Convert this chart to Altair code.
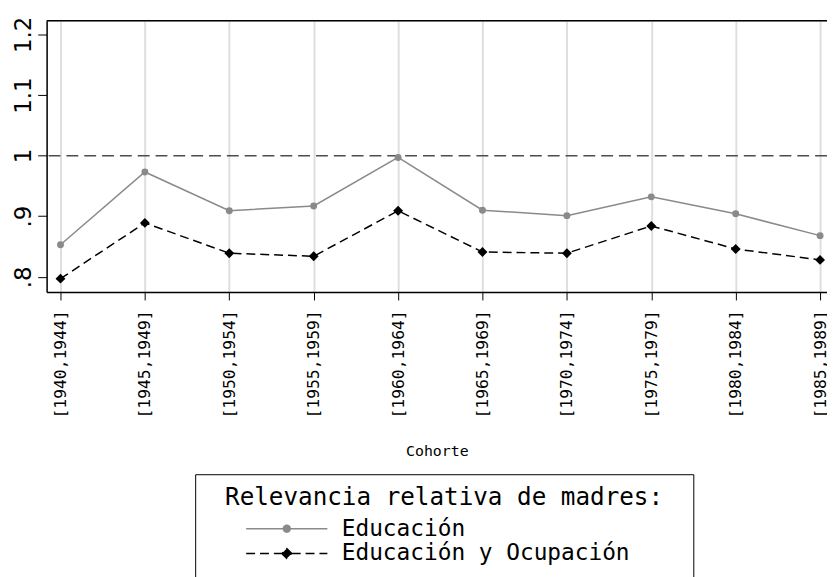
import altair as alt
import pandas as pd
import math

# ---- data ----
categorias = ["[1940,1944]", "[1945,1949]", "[1950,1954]", "[1955,1959]", "[1960,1964]",
              "[1965,1969]", "[1970,1974]", "[1975,1979]", "[1980,1984]", "[1985,1989]"]
educacion = [0.853, 0.973, 0.909, 0.917, 0.997, 0.910, 0.901, 0.932, 0.904, 0.868]
educ_ocup = [0.797, 0.889, 0.839, 0.834, 0.909, 0.841, 0.839, 0.884, 0.846, 0.828]
series = ["Educación", "Educación y Ocupación"]
y_ticks = [0.8, 0.9, 1.0, 1.1, 1.2]
y_tick_labels = [".8", ".9", "1", "1.1", "1.2"]
ref_value = [1.0]

rows = []
for i, c in enumerate(categorias):
    rows.append({"idx": i, "cohorte": c, "serie": series[0], "valor": educacion[i]})
    rows.append({"idx": i, "cohorte": c, "serie": series[1], "valor": educ_ocup[i]})
df = pd.DataFrame(rows)
ref_df = pd.DataFrame({"valor": ref_value})

W, H = 788, 274
GRAY = "#8a8a8a"
MONO = "DejaVu Sans Mono"

x_label_expr = "[" + ",".join("'%s'" % c for c in categorias) + "][round(datum.value)]"
y_label_expr = "[" + ",".join("'%s'" % t for t in y_tick_labels) + "][round((datum.value - 0.8) * 10)]"

x_enc = alt.X("idx:Q",
              scale=alt.Scale(domain=[-0.1643, 9.082], nice=False, zero=False),
              axis=alt.Axis(values=list(range(len(categorias))), labelExpr=x_label_expr,
                            labelAngle=-90, labelAlign="right", labelBaseline="middle",
                            labelFont=MONO, labelFontSize=16.5, labelColor="black",
                            labelPadding=10, tickSize=8, tickColor="black", tickWidth=1,
                            labelOverlap=False, labelFlush=False,
                            grid=True, gridColor="#dedede", gridWidth=2,
                            domainColor="black", domainWidth=1.5,
                            title="Cohorte", titleFont=MONO, titleFontSize=15,
                            titleFontWeight="normal", titleColor="black", titlePadding=26))
y_enc = alt.Y("valor:Q",
              scale=alt.Scale(domain=[0.775, 1.2227], nice=False, zero=False),
              axis=alt.Axis(values=y_ticks, labelExpr=y_label_expr,
                            labelAngle=-90, labelAlign="center", labelBaseline="bottom",
                            labelFont="DejaVu Sans", labelFontSize=23, labelColor="black",
                            labelPadding=2, tickSize=9, tickColor="black", tickWidth=1,
                            grid=False, domainColor="black", domainWidth=1.5,
                            labelOverlap=False, labelFlush=False, title=None))

base = alt.Chart(df)

ref_rule = alt.Chart(ref_df).mark_rule(color="#4d4d4d", strokeWidth=1.5, strokeDash=[12, 6]).encode(
    y=alt.Y("valor:Q", scale=alt.Scale(domain=[0.775, 1.2227], nice=False, zero=False))
)

top_line = alt.Chart(ref_df).mark_rule(color="black", strokeWidth=1.5).encode(
    x=alt.value(0), x2=alt.value(W + 10), y=alt.value(0)
)

e_line = base.transform_filter(alt.datum.serie == series[0]).mark_line(
    color=GRAY, strokeWidth=1.5).encode(x=x_enc, y=y_enc)
e_pts = base.transform_filter(alt.datum.serie == series[0]).mark_point(
    filled=True, shape="circle", size=49, color=GRAY, opacity=1).encode(x="idx:Q", y="valor:Q")
o_line = base.transform_filter(alt.datum.serie == series[1]).mark_line(
    color="black", strokeWidth=1.5, strokeDash=[9, 5]).encode(x="idx:Q", y="valor:Q")
o_pts = base.transform_filter(alt.datum.serie == series[1]).mark_point(
    filled=True, shape="diamond", size=100, color="black", opacity=1).encode(x="idx:Q", y="valor:Q")

# legend symbols: line with marker (custom symbol paths)
circle_pts = []
for k in range(17):
    a = 2 * math.pi * k / 16
    circle_pts.append("%.3f,%.3f" % (0.7 * math.cos(a), 0.7 * math.sin(a)))
path_educ = "M-8.2,0L8.2,0M" + "L".join(circle_pts) + "Z"
path_ocup = "M-8.2,0L-1,0M1,0L8.2,0M0,-1L1,0L0,1L-1,0Z"
path_blank = "M0,0"

# a blank third row only lets the legend frame run past the bottom edge, as in the reference
leg_domain = series + [" "]
BLANK = "\u2800"  # invisible spacer (not trimmed) to indent the legend title like the reference
leg = alt.Legend(orient="none", legendX=150, legendY=458,
                 title=BLANK + "Relevancia relativa de madres:" + BLANK,
                 titleFont=MONO, titleFontSize=24.5, titleFontWeight="normal", titleColor="black",
                 titlePadding=7, titleLimit=2000,
                 labelFont=MONO, labelFontSize=23, labelColor="black", labelLimit=2000,
                 padding=12, strokeColor="black", fillColor="white",
                 symbolSize=100, symbolStrokeWidth=1.5, symbolOffset=69, labelOffset=44,
                 rowPadding=1)
legend_layer = base.transform_filter("false").mark_point(filled=False, opacity=1).encode(
    x="idx:Q", y="valor:Q",
    stroke=alt.Stroke("serie:N", scale=alt.Scale(domain=leg_domain, range=[GRAY, "black", "white"]), legend=leg),
    fill=alt.Fill("serie:N", scale=alt.Scale(domain=leg_domain, range=[GRAY, "black", "white"]), legend=leg),
    shape=alt.Shape("serie:N", scale=alt.Scale(domain=leg_domain, range=[path_educ, path_ocup, path_blank]), legend=leg),
    strokeDash=alt.StrokeDash("serie:N", scale=alt.Scale(domain=leg_domain, range=[[1, 0], [9, 5], [1, 0]]), legend=leg),
)

chart = alt.layer(e_line, ref_rule, top_line, e_pts, o_line, o_pts, legend_layer).properties(
    width=W, height=H,
    autosize=alt.AutoSizeParams(type="none"),
    padding={"left": 39, "top": 10, "right": 0, "bottom": 285},
).configure_view(stroke=None).configure(background="white")

chart.save("out.html", embed_options={"renderer": "svg", "actions": False})
